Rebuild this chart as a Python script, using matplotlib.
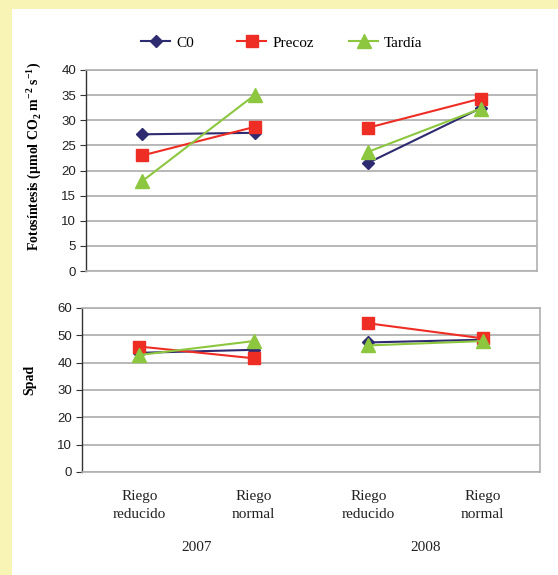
import matplotlib
matplotlib.use("Agg")
import matplotlib.pyplot as plt
from matplotlib.patches import Rectangle
from matplotlib.lines import Line2D

categories = ["Riego\nreducido", "Riego\nnormal", "Riego\nreducido", "Riego\nnormal"]
years = ["2007", "2008"]
series = ["C0", "Precoz", "Tardía"]

foto_c0 = [27.2, 27.5, 21.5, 32.4]
foto_precoz = [23.0, 28.7, 28.5, 34.3]
foto_tardia = [17.9, 35.1, 23.7, 32.3]

spad_c0 = [43.6, 44.7, 47.4, 48.4]
spad_precoz = [45.9, 41.6, 54.4, 48.9]
spad_tardia = [42.8, 47.9, 46.3, 47.9]

colors = ["#2E2B70", "#EE2E24", "#8DC63F"]
markers = ["D", "s", "^"]
msizes = [6.5, 8, 9.5]

SERIF = "Liberation Serif"
SANS = "Liberation Sans"

fig = plt.figure(figsize=(5.58, 5.75), dpi=100)
fig.patch.set_facecolor("#F7F4B6")
fig.add_artist(Rectangle((12 / 558, 0), 1 - 12 / 558, 1 - 9 / 575,
                         transform=fig.transFigure, facecolor="white",
                         edgecolor="none", zorder=0))

W, H = 558.0, 575.0

def make_ax(left, right, top, bottom):
    return fig.add_axes([left / W, 1 - bottom / H, (right - left) / W, (bottom - top) / H])

ax1 = make_ax(86, 537, 70, 271)
ax2 = make_ax(82, 540, 308, 472)

def style(ax, ymax, step, ylabel):
    ax.set_xlim(-0.5, 3.5)
    ax.set_ylim(0, ymax)
    ax.set_yticks(range(0, ymax + 1, step))
    ax.set_xticks([])
    ax.yaxis.grid(True, color="#ABABAB", lw=1.2, ls="-")
    ax.set_axisbelow(True)
    for s in ["top", "right", "bottom"]:
        ax.spines[s].set_color("#B0B0B0")
        ax.spines[s].set_linewidth(1.2)
    ax.spines["left"].set_color("#333333")
    ax.spines["left"].set_linewidth(1.0)
    ax.tick_params(axis="y", length=4, width=0.8, color="#333333",
                   labelsize=9.5, pad=3, labelcolor="#222222")
    for lab in ax.get_yticklabels():
        lab.set_fontfamily(SANS)
    ax.set_ylabel(ylabel, fontfamily=SERIF, fontweight="bold", fontsize=10)
    ax.patch.set_alpha(0)

def plot_series(ax, data):
    xs = list(range(len(categories)))
    for vals, c, m, ms in zip(data, colors, markers, msizes):
        for seg in (slice(0, 2), slice(2, 4)):
            ax.plot(xs[seg], vals[seg], color=c, lw=1.5, marker=m, ms=ms,
                    markeredgecolor=c, markerfacecolor=c, zorder=3)

plot_series(ax1, [foto_c0, foto_precoz, foto_tardia])
plot_series(ax2, [spad_c0, spad_precoz, spad_tardia])

style(ax1, 40, 5, r"Fotosíntesis (µmol CO$_\mathregular{2}$ m$^\mathregular{-2}$ s$^\mathregular{-1}$)")
style(ax2, 60, 10, "Spad")
ax1.yaxis.set_label_coords(-0.095, 0.57)
ax2.yaxis.set_label_coords(-0.100, 0.56)

for i, lab in enumerate(categories):
    ax2.text(i, -0.11, lab, transform=ax2.get_xaxis_transform(), ha="center",
             va="top", fontfamily=SERIF, fontsize=11, color="#222222", linespacing=1.45)
for j, yr in enumerate(years):
    ax2.text(2 * j + 0.5, -0.42, yr, transform=ax2.get_xaxis_transform(), ha="center",
             va="top", fontfamily=SERIF, fontsize=11, color="#222222")

legend_x = [141, 237, 349]
for name, c, m, ms, lx in zip(series, colors, markers, msizes, legend_x):
    h = Line2D([0], [0], color=c, lw=1.5, marker=m, ms=ms, markeredgecolor=c)
    fig.legend([h], [name], loc="center left", bbox_to_anchor=(lx / W, 1 - 43 / H),
               frameon=False, prop={"family": SERIF, "size": 11}, borderpad=0,
               borderaxespad=0, handlelength=1.9, handletextpad=0.4)

fig.savefig("out.png", dpi=100, facecolor=fig.get_facecolor())
